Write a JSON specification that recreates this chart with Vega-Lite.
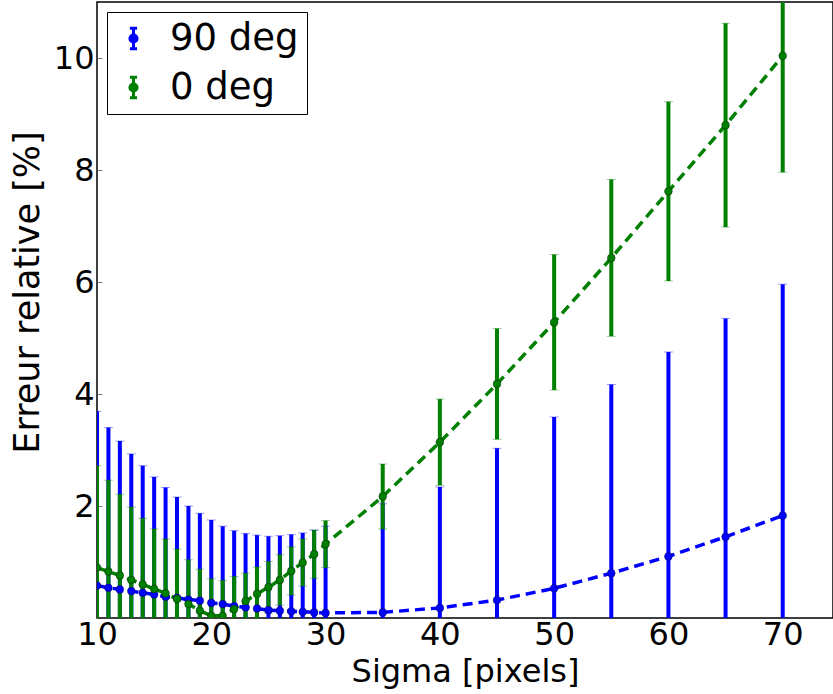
{
  "$schema": "https://vega.github.io/schema/vega-lite/v6.json",
  "width": 736,
  "height": 616,
  "autosize": {"type": "none"},
  "padding": {"left": 97, "top": 2, "right": 0, "bottom": 76},
  "background": "white",
  "config": {
    "font": "DejaVu Sans",
    "view": {"stroke": "black", "strokeWidth": 1.5},
    "axis": {
      "grid": false,
      "domain": false,
      "ticks": true,
      "tickSize": -5,
      "tickColor": "#777777",
      "tickWidth": 1,
      "labelFontSize": 32,
      "labelColor": "black",
      "titleFontSize": 32,
      "titleFontWeight": "normal",
      "titleColor": "black",
      "labelFlush": false,
      "labelOverlap": false
    },
    "legend": {
      "labelFontSize": 37,
      "labelColor": "black",
      "strokeColor": "black",
      "fillColor": "white",
      "padding": 8,
      "cornerRadius": 0
    }
  },
  "data": {
    "values": [
      {"series": "90 deg", "sigma": 10, "err": 0.58, "lo": -2.53, "hi": 3.69},
      {"series": "90 deg", "sigma": 11, "err": 0.54, "lo": -2.32, "hi": 3.40},
      {"series": "90 deg", "sigma": 12, "err": 0.51, "lo": -2.14, "hi": 3.16},
      {"series": "90 deg", "sigma": 13, "err": 0.48, "lo": -1.97, "hi": 2.93},
      {"series": "90 deg", "sigma": 14, "err": 0.45, "lo": -1.82, "hi": 2.72},
      {"series": "90 deg", "sigma": 15, "err": 0.42, "lo": -1.68, "hi": 2.52},
      {"series": "90 deg", "sigma": 16, "err": 0.38, "lo": -1.57, "hi": 2.33},
      {"series": "90 deg", "sigma": 17, "err": 0.36, "lo": -1.44, "hi": 2.16},
      {"series": "90 deg", "sigma": 18, "err": 0.33, "lo": -1.34, "hi": 2.00},
      {"series": "90 deg", "sigma": 19, "err": 0.31, "lo": -1.25, "hi": 1.87},
      {"series": "90 deg", "sigma": 20, "err": 0.27, "lo": -1.21, "hi": 1.75},
      {"series": "90 deg", "sigma": 21, "err": 0.25, "lo": -1.14, "hi": 1.64},
      {"series": "90 deg", "sigma": 22, "err": 0.21, "lo": -1.14, "hi": 1.56},
      {"series": "90 deg", "sigma": 23, "err": 0.19, "lo": -1.13, "hi": 1.51},
      {"series": "90 deg", "sigma": 24, "err": 0.17, "lo": -1.14, "hi": 1.48},
      {"series": "90 deg", "sigma": 25, "err": 0.14, "lo": -1.18, "hi": 1.46},
      {"series": "90 deg", "sigma": 26, "err": 0.13, "lo": -1.21, "hi": 1.47},
      {"series": "90 deg", "sigma": 27, "err": 0.12, "lo": -1.25, "hi": 1.49},
      {"series": "90 deg", "sigma": 28, "err": 0.11, "lo": -1.30, "hi": 1.52},
      {"series": "90 deg", "sigma": 29, "err": 0.10, "lo": -1.37, "hi": 1.57},
      {"series": "90 deg", "sigma": 30, "err": 0.09, "lo": -1.46, "hi": 1.64},
      {"series": "90 deg", "sigma": 35, "err": 0.10, "lo": -1.84, "hi": 2.04},
      {"series": "90 deg", "sigma": 40, "err": 0.18, "lo": -1.98, "hi": 2.34},
      {"series": "90 deg", "sigma": 45, "err": 0.32, "lo": -2.39, "hi": 3.03},
      {"series": "90 deg", "sigma": 50, "err": 0.53, "lo": -2.53, "hi": 3.59},
      {"series": "90 deg", "sigma": 55, "err": 0.80, "lo": -2.57, "hi": 4.17},
      {"series": "90 deg", "sigma": 60, "err": 1.10, "lo": -2.55, "hi": 4.75},
      {"series": "90 deg", "sigma": 65, "err": 1.45, "lo": -2.45, "hi": 5.35},
      {"series": "90 deg", "sigma": 70, "err": 1.83, "lo": -2.30, "hi": 5.96},
      {"series": "0 deg", "sigma": 10, "err": 0.90, "lo": -0.92, "hi": 2.72},
      {"series": "0 deg", "sigma": 11, "err": 0.83, "lo": -0.80, "hi": 2.46},
      {"series": "0 deg", "sigma": 12, "err": 0.76, "lo": -0.69, "hi": 2.21},
      {"series": "0 deg", "sigma": 13, "err": 0.68, "lo": -0.62, "hi": 1.98},
      {"series": "0 deg", "sigma": 14, "err": 0.60, "lo": -0.58, "hi": 1.78},
      {"series": "0 deg", "sigma": 15, "err": 0.52, "lo": -0.55, "hi": 1.59},
      {"series": "0 deg", "sigma": 16, "err": 0.44, "lo": -0.53, "hi": 1.41},
      {"series": "0 deg", "sigma": 17, "err": 0.34, "lo": -0.55, "hi": 1.23},
      {"series": "0 deg", "sigma": 18, "err": 0.25, "lo": -0.54, "hi": 1.04},
      {"series": "0 deg", "sigma": 19, "err": 0.13, "lo": -0.61, "hi": 0.87},
      {"series": "0 deg", "sigma": 20, "err": 0.04, "lo": -0.62, "hi": 0.70},
      {"series": "0 deg", "sigma": 21, "err": 0.04, "lo": -0.59, "hi": 0.67},
      {"series": "0 deg", "sigma": 22, "err": 0.16, "lo": -0.42, "hi": 0.74},
      {"series": "0 deg", "sigma": 23, "err": 0.30, "lo": -0.20, "hi": 0.80},
      {"series": "0 deg", "sigma": 24, "err": 0.43, "lo": -0.05, "hi": 0.91},
      {"series": "0 deg", "sigma": 25, "err": 0.55, "lo": 0.09, "hi": 1.01},
      {"series": "0 deg", "sigma": 26, "err": 0.68, "lo": 0.23, "hi": 1.13},
      {"series": "0 deg", "sigma": 27, "err": 0.84, "lo": 0.41, "hi": 1.27},
      {"series": "0 deg", "sigma": 28, "err": 0.99, "lo": 0.57, "hi": 1.41},
      {"series": "0 deg", "sigma": 29, "err": 1.14, "lo": 0.71, "hi": 1.57},
      {"series": "0 deg", "sigma": 30, "err": 1.32, "lo": 0.90, "hi": 1.74},
      {"series": "0 deg", "sigma": 35, "err": 2.17, "lo": 1.59, "hi": 2.75},
      {"series": "0 deg", "sigma": 40, "err": 3.14, "lo": 2.37, "hi": 3.91},
      {"series": "0 deg", "sigma": 45, "err": 4.18, "lo": 3.19, "hi": 5.17},
      {"series": "0 deg", "sigma": 50, "err": 5.28, "lo": 4.07, "hi": 6.49},
      {"series": "0 deg", "sigma": 55, "err": 6.43, "lo": 5.03, "hi": 7.83},
      {"series": "0 deg", "sigma": 60, "err": 7.62, "lo": 6.02, "hi": 9.22},
      {"series": "0 deg", "sigma": 65, "err": 8.80, "lo": 6.98, "hi": 10.62},
      {"series": "0 deg", "sigma": 70, "err": 10.04, "lo": 7.96, "hi": 12.12}
    ]
  },
  "encoding": {
    "x": {
      "field": "sigma",
      "type": "quantitative",
      "scale": {"domain": [10, 74.4], "nice": false, "zero": false},
      "axis": {"title": "Sigma [pixels]", "values": [10, 20, 30, 40, 50, 60, 70], "format": "d", "labelPadding": 6, "titlePadding": 6}
    },
    "color": {
      "field": "series",
      "type": "nominal",
      "scale": {"domain": ["90 deg", "0 deg"], "range": ["#0000ff", "#008000"]},
      "legend": {
        "title": null,
        "orient": "top-left",
        "offset": 10,
        "symbolType": "M0,-1L0,1M-0.35,-1L0.35,-1M-0.35,1L0.35,1M-0.35,0A0.35,0.35,0,1,0,0.35,0A0.35,0.35,0,1,0,-0.35,0Z",
        "symbolSize": 420,
        "symbolStrokeWidth": 3,
        "symbolOffset": 0,
        "labelOffset": 18,
        "rowPadding": 11,
        "encode": {
          "symbols": {
            "update": {
              "fill": {"scale": "color", "field": "value"},
              "stroke": {"scale": "color", "field": "value"}
            }
          }
        }
      }
    }
  },
  "layer": [
    {
      "mark": {"type": "rule", "strokeWidth": 4, "clip": true},
      "encoding": {
        "y": {
          "field": "lo",
          "type": "quantitative",
          "scale": {"domain": [0, 11], "nice": false},
          "axis": {"title": "Erreur relative [%]", "values": [2, 4, 6, 8, 10], "format": "d", "labelPadding": 8, "titlePadding": 8, "titleFontSize": 35, "titleY": 290}
        },
        "y2": {"field": "hi"}
      }
    },
    {
      "mark": {"type": "tick", "orient": "horizontal", "size": 9, "thickness": 1, "opacity": 0.4, "clip": true},
      "encoding": {"y": {"field": "hi", "type": "quantitative"}}
    },
    {
      "mark": {"type": "tick", "orient": "horizontal", "size": 9, "thickness": 1, "opacity": 0.4, "clip": true},
      "encoding": {"y": {"field": "lo", "type": "quantitative"}}
    },
    {
      "mark": {"type": "line", "strokeWidth": 3.5, "strokeDash": [10, 6], "clip": true},
      "encoding": {"y": {"field": "err", "type": "quantitative"}}
    },
    {
      "mark": {"type": "point", "filled": true, "shape": "circle", "size": 60, "opacity": 1, "stroke": "black", "strokeWidth": 0.6, "strokeOpacity": 0.6, "clip": true},
      "encoding": {"y": {"field": "err", "type": "quantitative"}}
    }
  ]
}
